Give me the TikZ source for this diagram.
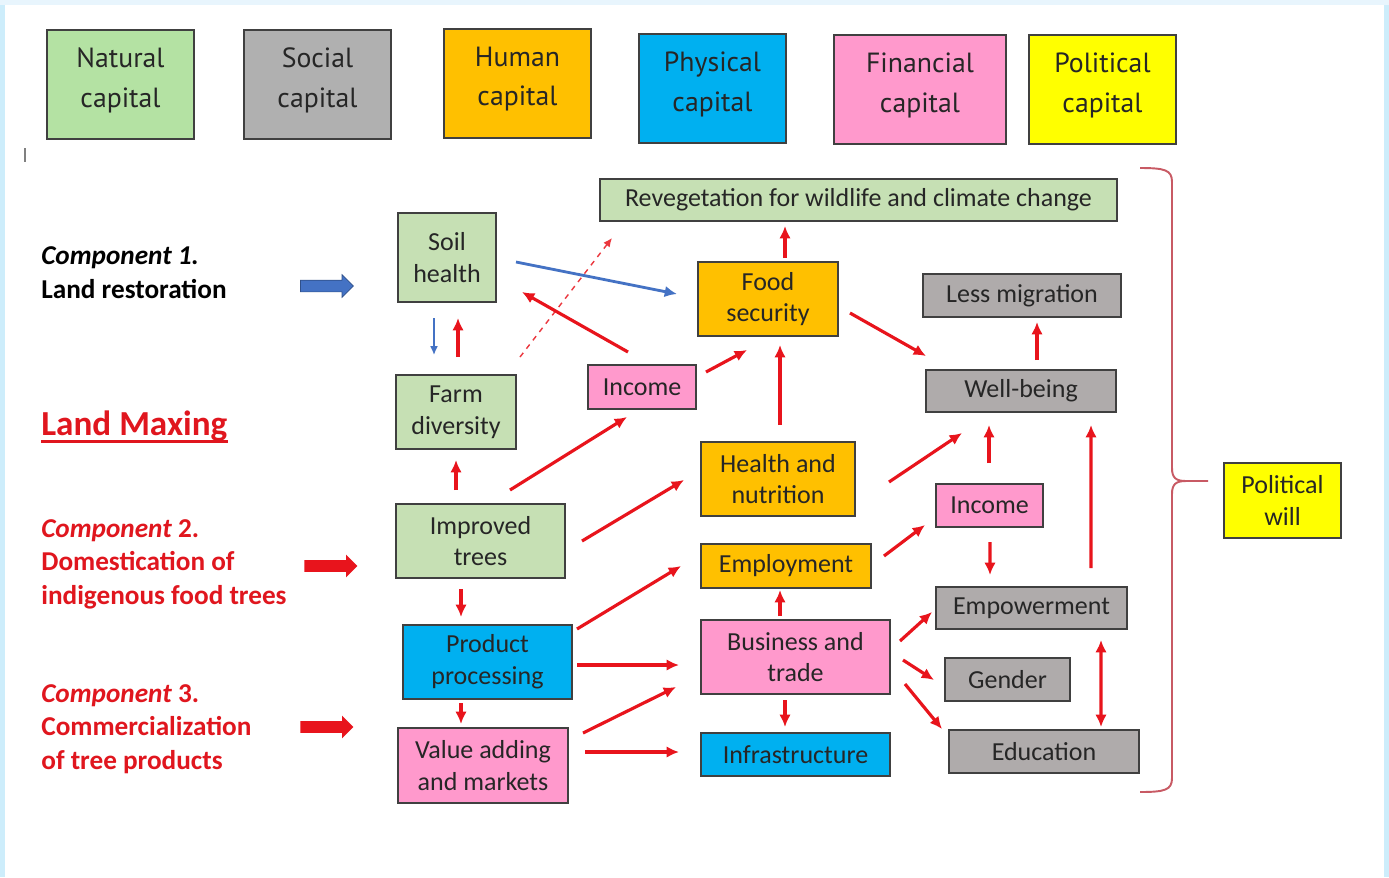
\documentclass[tikz,border=0pt]{standalone}
\usepackage{fontspec}
\setmainfont{Carlito}
\newfontfamily\legfont{PT Sans}
\usepackage{xcolor}
\usetikzlibrary{arrows.meta, calc, shapes.arrows}

\definecolor{natgreen}{HTML}{B4E2A3}
\definecolor{boxgreen}{HTML}{C6E0B4}
\definecolor{boxgray}{HTML}{AFABAB}
\definecolor{leggray}{HTML}{B0B0B0}
\definecolor{boxorange}{HTML}{FFC000}
\definecolor{boxblue}{HTML}{00B0F0}
\definecolor{boxpink}{HTML}{FF99CC}
\definecolor{boxyellow}{HTML}{FFFF00}
\definecolor{linered}{HTML}{E8141C}
\definecolor{textred}{HTML}{E0161E}
\definecolor{lineblue}{HTML}{4472C4}
\definecolor{bracered}{HTML}{C85A64}
\definecolor{framebg}{HTML}{CDEDFB}
\definecolor{frametop}{HTML}{E8F5FD}
\definecolor{boxline}{HTML}{404040}
\definecolor{textdark}{HTML}{262626}

\begin{document}
\begin{tikzpicture}[x=0.02cm, y=-0.02cm,
    box/.style={draw=boxline, line width=1.1pt, align=center, inner sep=1pt, text=textdark, font=\fontsize{14.8}{18}\selectfont},
    legbox/.style={box, minimum width=2.94cm, minimum height=2.18cm, text depth=8pt, font=\legfont\fontsize{15.8}{22.5}\selectfont},
    comp/.style={anchor=west, align=left, inner sep=0pt, font=\bfseries\fontsize{15.5}{19}\selectfont},
    blkarr/.style={single arrow, minimum height=1.06cm, inner sep=0pt, inner ysep=0.11cm, single arrow head extend=0.11cm},
    redarr/.style={draw=linered, line width=1.8pt, -{Latex[length=7pt,width=6.5pt]}},
    bluearr/.style={draw=lineblue, line width=1.6pt, -{Latex[length=7pt,width=6.5pt]}}]

    % frame
    \fill[framebg] (0,0) rectangle (1389,877);
    \fill[frametop] (0,0) rectangle (1389,5);
    \fill[white] (5,5) rectangle (1384,877);
    \useasboundingbox (0,0) rectangle (1389,877);
    \draw[gray, line width=0.6pt] (25,148) -- (25,162);

    % capitals
    \node[legbox, fill=natgreen] (natcap) at (120.5,84.5) {Natural\\capital};
    \node[legbox, fill=leggray] (soccap) at (317.5,84.5) {Social\\capital};
    \node[legbox, fill=boxorange] (humcap) at (517.5,83.5) {Human\\capital};
    \node[legbox, fill=boxblue] (phycap) at (712.5,88.5) {Physical\\capital};
    \node[legbox, fill=boxpink, minimum width=3.44cm] (fincap) at (920,89.5) {Financial\\capital};
    \node[legbox, fill=boxyellow] (polcap) at (1102.5,89.5) {Political\\capital};

    % components
    \node[comp] (comp1) at (41,272.5) {\textit{Component 1.}\\Land restoration};
    \node[comp, text=textred, font=\bfseries\fontsize{20}{24}\selectfont] (lmax) at (41,426) {Land Maxing};
    \draw[textred, line width=1.8pt] ($(lmax.base west)+(0,6)$) -- ($(lmax.base east)+(0,6)$);
    \node[comp, text=textred] (comp2) at (41,564) {\textit{Component} 2.\\Domestication of\\indigenous food trees};
    \node[comp, text=textred] (comp3) at (41,729) {\textit{Component} 3.\\Commercialization\\of tree products};
    \node[blkarr, fill=lineblue, draw=lineblue!70!black, line width=0.4pt] (blk1) at (324,286) {};
    \node[blkarr, fill=linered] (blk2) at (328,566) {};
    \node[blkarr, fill=linered] (blk3) at (324,727) {};

    % boxes
    \node[box, fill=boxgreen, minimum width=1.96cm, minimum height=1.78cm] (soil) at (447,257.5) {Soil\\health};
    \node[box, fill=boxgreen, minimum width=2.40cm, minimum height=1.48cm] (farm) at (456,412) {Farm\\diversity};
    \node[box, fill=boxgreen, minimum width=3.38cm, minimum height=1.48cm] (impr) at (480.5,541) {Improved\\trees};
    \node[box, fill=boxblue, minimum width=3.38cm, minimum height=1.48cm] (proc) at (487.5,662) {Product\\processing};
    \node[box, fill=boxpink, minimum width=3.40cm, minimum height=1.50cm] (valu) at (483,765.5) {Value adding\\and markets};
    \node[box, fill=boxgreen, minimum width=10.34cm, minimum height=0.84cm] (reveg) at (858.5,200) {Revegetation for wildlife and climate change};
    \node[box, fill=boxorange, minimum width=2.80cm, minimum height=1.48cm] (food) at (768,299) {Food\\security};
    \node[box, fill=boxpink, minimum width=2.16cm, minimum height=0.88cm] (inc1) at (642,387) {Income};
    \node[box, fill=boxorange, minimum width=3.08cm, minimum height=1.48cm] (heal) at (778,479) {Health and\\nutrition};
    \node[box, fill=boxorange, minimum width=3.40cm, minimum height=0.88cm] (empl) at (786,566) {Employment};
    \node[box, fill=boxpink, minimum width=3.78cm, minimum height=1.48cm] (busi) at (795.5,657) {Business and\\trade};
    \node[box, fill=boxblue, minimum width=3.78cm, minimum height=0.86cm] (infr) at (795.5,754.5) {Infrastructure};
    \node[box, fill=boxgray, minimum width=3.96cm, minimum height=0.86cm] (less) at (1022,295.5) {Less migration};
    \node[box, fill=boxgray, minimum width=3.80cm, minimum height=0.84cm] (well) at (1021,391) {Well-being};
    \node[box, fill=boxpink, minimum width=2.14cm, minimum height=0.86cm] (inc2) at (989.5,505.5) {Income};
    \node[box, fill=boxgray, minimum width=3.82cm, minimum height=0.84cm] (empw) at (1031.5,608) {Empowerment};
    \node[box, fill=boxgray, minimum width=2.50cm, minimum height=0.86cm] (gend) at (1007.5,679.5) {Gender};
    \node[box, fill=boxgray, minimum width=3.80cm, minimum height=0.86cm] (educ) at (1044,751.5) {Education};
    \node[box, fill=boxyellow, minimum width=2.34cm, minimum height=1.50cm] (polw) at (1282.5,500.5) {Political\\will};

    % brace
    \draw[bracered, line width=1.1pt] (1140,168) .. controls (1165,168) and (1172,170) .. (1172,182) -- (1172,468)
        .. controls (1172,478) and (1176,481) .. (1186,481) -- (1208,481);
    \draw[bracered, line width=1.1pt] (1186,481) .. controls (1176,481) and (1172,484) .. (1172,494) -- (1172,778)
        .. controls (1172,790) and (1165,792) .. (1140,792);

    % links
    \draw[bluearr] ($(soil)+(69,4.5)$) -- ($(food)+(-91,-5)$);
    \draw[bluearr, line width=0.9pt, -{Latex[length=5pt,width=4.5pt]}] ($(soil)+(-13,60.5)$) -- ($(farm)+(-22,-57)$);
    \draw[redarr, draw=linered!85!white, line width=0.8pt, dashed, -{Latex[length=5pt,width=4.5pt]}] ($(farm)+(64,-55)$) -- ($(reveg)+(-246.5,38)$);
    \draw[redarr] ($(food)+(17,-41)$) -- ($(reveg)+(-73.5,26)$);
    \draw[redarr] ($(inc1)+(-14,-35)$) -- ($(soil)+(75,34.5)$);
    \draw[redarr] ($(farm)+(2,-55)$) -- ($(soil)+(11,60.5)$);
    \draw[redarr] ($(inc1)+(64,-15)$) -- ($(food)+(-21,51)$);
    \draw[redarr] ($(heal)+(2,-54)$) -- ($(food)+(12,46)$);
    \draw[redarr] ($(food)+(82,14)$) -- ($(well)+(-95,-35)$);
    \draw[redarr] ($(well)+(16,-31)$) -- ($(less)+(15,26.5)$);
    \draw[redarr] ($(impr)+(-24.5,-51)$) -- ($(farm)+(0,48)$);
    \draw[redarr] ($(impr)+(29.5,-51)$) -- ($(inc1)+(-15,30)$);
    \draw[redarr] ($(impr)+(101.5,0)$) -- ($(heal)+(-94,1)$);
    \draw[redarr] ($(heal)+(111,3)$) -- ($(well)+(-59,42)$);
    \draw[redarr] ($(inc2)+(-0.5,-42.5)$) -- ($(well)+(-32,34)$);
    \draw[redarr] ($(empl)+(98,-10)$) -- ($(inc2)+(-64.5,19.5)$);
    \draw[redarr] ($(inc2)+(0.5,36.5)$) -- ($(empw)+(-41.5,-33)$);
    \draw[redarr] ($(empw)+(59.5,-40)$) -- ($(well)+(70,34)$);
    \draw[redarr] ($(impr)+(-19.5,48)$) -- ($(proc)+(-26.5,-45)$);
    \draw[redarr] ($(proc)+(89.5,-33)$) -- ($(empl)+(-105,0)$);
    \draw[redarr] ($(busi)+(-15.5,-41)$) -- ($(empl)+(-6,24)$);
    \draw[redarr] ($(proc)+(89.5,3)$) -- ($(busi)+(-116.5,8)$);
    \draw[redarr] ($(proc)+(-26.5,41)$) -- ($(valu)+(-22,-41.5)$);
    \draw[redarr] ($(valu)+(100,-32.5)$) -- ($(busi)+(-119.5,30)$);
    \draw[redarr] ($(valu)+(102,-13.5)$) -- ($(infr)+(-116.5,-2.5)$);
    \draw[redarr] ($(busi)+(-10.5,43)$) -- ($(infr)+(-10.5,-27.5)$);
    \draw[redarr] ($(busi)+(104.5,-16)$) -- ($(empw)+(-99.5,4)$);
    \draw[redarr] ($(busi)+(107.5,3)$) -- ($(gend)+(-73.5,0.5)$);
    \draw[redarr] ($(busi)+(109.5,27)$) -- ($(educ)+(-102,-22.5)$);
    \draw[redarr, {Latex[length=7pt,width=6.5pt]}-{Latex[length=7pt,width=6.5pt]}] ($(empw)+(69.5,32)$) -- ($(educ)+(57,-24.5)$);
\end{tikzpicture}
\end{document}
